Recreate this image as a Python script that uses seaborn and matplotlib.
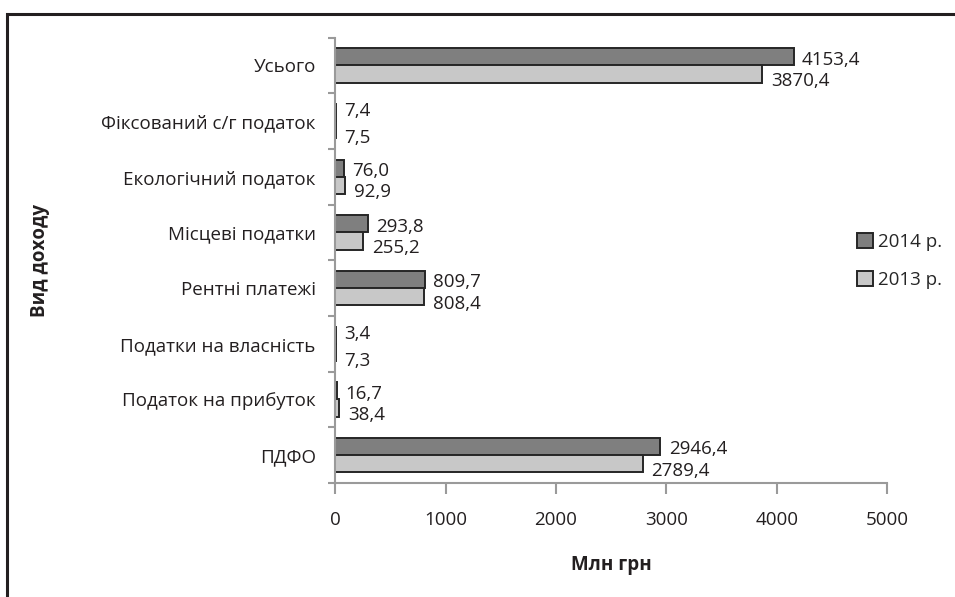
import matplotlib
matplotlib.use('Agg')
import matplotlib.pyplot as plt
from matplotlib.patches import Rectangle
import seaborn as sns
import pandas as pd
import numpy as np

categories = ['Усього', 'Фіксований с/г податок', 'Екологічний податок',
              'Місцеві податки', 'Рентні платежі', 'Податки на власність',
              'Податок на прибуток', 'ПДФО']
values_2014 = [4153.4, 7.4, 76.0, 293.8, 809.7, 3.4, 16.7, 2946.4]
values_2013 = [3870.4, 7.5, 92.9, 255.2, 808.4, 7.3, 38.4, 2789.4]
years = ['2014 р.', '2013 р.']
colors = ['#7f7f7f', '#c8c8c8']
x_ticks = [0, 1000, 2000, 3000, 4000, 5000]

FS = 13.5
TXT = '#231f20'

sns.set_theme(style='white')
plt.rcParams['font.family'] = ['Open Sans', 'DejaVu Sans']

df = pd.DataFrame({
    'cat': categories * 2,
    'val': values_2014 + values_2013,
    'year': [years[0]] * len(categories) + [years[1]] * len(categories),
})

fig = plt.figure(figsize=(9.55, 5.97), dpi=100)
ax = fig.add_axes([0.351, 0.191, 0.578, 0.746])

sns.barplot(data=df, y='cat', x='val', hue='year', hue_order=years,
            order=categories, palette=colors, width=0.62, orient='h',
            edgecolor='#262626', linewidth=1.4, saturation=1, ax=ax)

# value labels; tiny pairs get pushed apart a little
for k, cont in enumerate(ax.containers):
    for bar, v, other in zip(cont, cont.datavalues,
                             values_2013 if k == 0 else values_2014):
        dy = -2 if k == 0 else -5
        if v < 10 and other < 10:
            dy = 1 if k == 0 else -6
        ax.annotate(f"{v:.1f}".replace('.', ','),
                    (bar.get_width(), bar.get_y() + bar.get_height() / 2),
                    xytext=(6, dy), textcoords='offset points',
                    ha='left', va='center', fontsize=FS, color=TXT)

ax.set_xlim(0, 5000)
ax.set_ylim(len(categories) - 0.5, -0.5)
ax.set_xticks(x_ticks)
ax.set_xticklabels([str(t) for t in x_ticks], fontsize=FS, color=TXT)
ax.tick_params(axis='x', length=8, width=1.5, color='#9a9a9a', pad=12, bottom=True)
ax.set_yticks(range(len(categories)))
ax.set_yticklabels(categories, fontsize=FS, color=TXT)
ax.tick_params(axis='y', which='major', length=0, pad=14)
ax.set_yticks(np.arange(-0.5, len(categories), 1), minor=True)
ax.tick_params(axis='y', which='minor', length=5, width=1.5, color='#9a9a9a', left=True)

for s in ['top', 'right']:
    ax.spines[s].set_visible(False)
for s in ['left', 'bottom']:
    ax.spines[s].set_color('#9a9a9a')
    ax.spines[s].set_linewidth(1.5)

ax.set_xlabel('Млн грн', fontsize=FS, fontweight='bold', labelpad=19, color=TXT)
ax.set_ylabel('Вид доходу', fontsize=FS, fontweight='bold', color=TXT)
ax.yaxis.set_label_coords((50 / 955 - 0.351) / 0.578, 0.5)

handles, labels = ax.get_legend_handles_labels()
if ax.legend_:
    ax.legend_.remove()
fig.legend(handles, labels, loc='center left', bbox_to_anchor=(0.89, 0.563),
           frameon=False, fontsize=FS, handlelength=0.85, handleheight=0.85,
           handletextpad=0.25, labelspacing=1.05, borderaxespad=0)

fig.patches.append(Rectangle((7 / 955, -0.1), 1.2, 1 - 14 / 597 + 0.1,
                             transform=fig.transFigure, fill=False,
                             edgecolor=TXT, linewidth=2.2))

fig.savefig('out.png', dpi=100)
